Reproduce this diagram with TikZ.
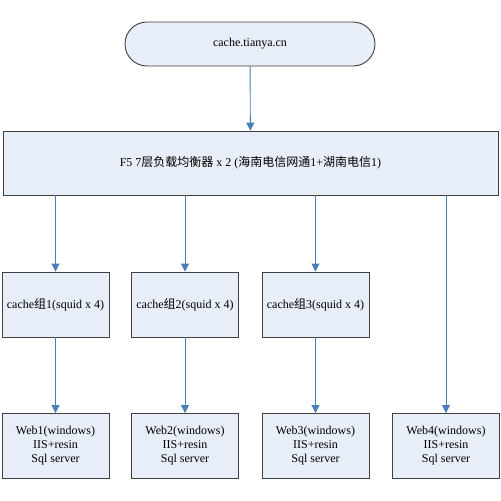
\documentclass[tikz,border=0pt]{standalone}
\usepackage{fontspec}
\setmainfont{Liberation Serif}
\newfontfamily\cjk{Noto Sans CJK SC}
\usetikzlibrary{arrows.meta}
\definecolor{boxfill}{HTML}{E8EEF7}
\definecolor{boxline}{HTML}{404040}
\definecolor{pfeilblau}{HTML}{4A7EBB}
\tikzset{
  kasten/.style={draw=boxline, line width=0.9pt, fill=boxfill, align=center,
    inner sep=0pt, font=\fontsize{12}{14}\selectfont},
  pfeil/.style={draw=pfeilblau, line width=0.9pt,
    -{Triangle[width=8pt,length=8pt]}}
}
\begin{document}
\begin{tikzpicture}[x=1pt, y=-1pt]
        \def\bw{107}
        \def\bh{65}
        \fill[white] (0,0) rectangle (501,501);
        \useasboundingbox (0,0) rectangle (501,501);
        % Eingang
        \node[kasten, rounded corners=22pt, minimum width=250, minimum height=44] (top) at (250,44) {cache.tianya.cn};
        % Lastverteiler
        \node[kasten, minimum width=495, minimum height=64] (f5) at (250.5,163)
            {F5 7{\cjk 层负载均衡器} x 2 ({\cjk 海南电信网通}1+{\cjk 湖南电信}1)};
        \draw[pfeil] (top) -- (f5);
        % Cache-Gruppen
        \node[kasten, minimum width=\bw, minimum height=\bh] (c1) at (55.5,304.5) {cache{\cjk 组}1(squid x 4)};
        \node[kasten, minimum width=\bw, minimum height=\bh] (c2) at (185,304.5) {cache{\cjk 组}2(squid x 4)};
        \node[kasten, minimum width=\bw, minimum height=\bh] (c3) at (315.5,304.5) {cache{\cjk 组}3(squid x 4)};
        % Webserver
        \node[kasten, minimum width=\bw, minimum height=\bh] (w1) at (55.5,446) {Web1(windows)\\IIS+resin\\Sql server};
        \node[kasten, minimum width=\bw, minimum height=\bh] (w2) at (185,446) {Web2(windows)\\IIS+resin\\Sql server};
        \node[kasten, minimum width=\bw, minimum height=\bh] (w3) at (315.5,446) {Web3(windows)\\IIS+resin\\Sql server};
        \node[kasten, minimum width=\bw, minimum height=\bh] (w4) at (446,446) {Web4(windows)\\IIS+resin\\Sql server};
        % Verbindungen
        \foreach \i in {1,2,3} {
            \draw[pfeil] (f5.south -| c\i) -- (c\i);
            \draw[pfeil] (c\i) -- (w\i);
        }
        \draw[pfeil] (f5.south -| w4) -- (w4);
    \end{tikzpicture}
\end{document}
